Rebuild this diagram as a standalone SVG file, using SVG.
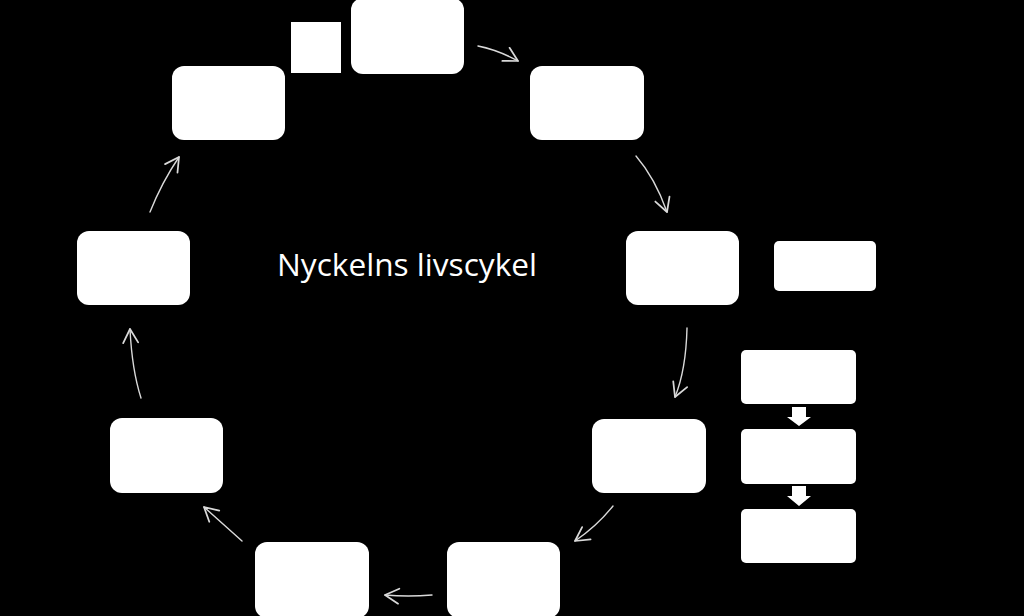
<svg xmlns="http://www.w3.org/2000/svg" width="1024" height="616" viewBox="0 0 1024 616">
<defs>
<style>
.node{fill:#ffffff}
.conn{fill:none;stroke:#d9d9d9;stroke-width:1.4;stroke-linecap:round}
.title{font-family:"Open Sans","Liberation Sans",sans-serif;font-size:31px;fill:#ffffff}
.block{fill:#ffffff}
</style>
<marker id="arr" markerUnits="userSpaceOnUse" markerWidth="20" markerHeight="20" viewBox="-12 -8 14 16" refX="0" refY="0" orient="auto">
<path d="M-11,-6 L0,0 L-11,6" fill="none" stroke="#d9d9d9" stroke-width="1.4" stroke-linecap="round" stroke-linejoin="round"/>
</marker>
</defs>
<rect width="1024" height="616" fill="#000000"/>
<g id="connectors">
<path class="conn" d="M478,46 Q498,50 518,61" marker-end="url(#arr)"/>
<path class="conn" d="M636,156 Q655,178 667,212" marker-end="url(#arr)"/>
<path class="conn" d="M687,328 Q686,370 675,397" marker-end="url(#arr)"/>
<path class="conn" d="M613,506 Q597,526 575,541" marker-end="url(#arr)"/>
<path class="conn" d="M432,595 Q408,597 385,595" marker-end="url(#arr)"/>
<path class="conn" d="M242,541 Q222,523 204,507" marker-end="url(#arr)"/>
<path class="conn" d="M141,398 Q132,370 130,329" marker-end="url(#arr)"/>
<path class="conn" d="M150,212 Q162,182 179,157" marker-end="url(#arr)"/>
<path class="block" d="M792,407 H806 V417 H811 L799,426 L787,417 H792 Z"/>
<path class="block" d="M792,486 H806 V496 H811 L799,506 L787,496 H792 Z"/>
</g>
<g id="n-top"><rect class="node" x="351" y="-2" width="113" height="76" rx="12"/></g>
<g id="n-square"><rect class="node" x="291" y="22" width="50" height="51"/></g>
<g id="n-topright"><rect class="node" x="530" y="66" width="114" height="74" rx="12"/></g>
<g id="n-topleft"><rect class="node" x="172" y="66" width="113" height="74" rx="12"/></g>
<g id="n-right"><rect class="node" x="626" y="231" width="113" height="74" rx="12"/></g>
<g id="n-rightside"><rect class="node" x="774" y="241" width="102" height="50" rx="5"/></g>
<g id="n-stack1"><rect class="node" x="741" y="350" width="115" height="54" rx="5"/></g>
<g id="n-stack2"><rect class="node" x="741" y="429" width="115" height="55" rx="5"/></g>
<g id="n-stack3"><rect class="node" x="741" y="509" width="115" height="54" rx="5"/></g>
<g id="n-lowerright"><rect class="node" x="592" y="419" width="114" height="74" rx="12"/></g>
<g id="n-bottomright"><rect class="node" x="447" y="542" width="113" height="76" rx="12"/></g>
<g id="n-bottomleft"><rect class="node" x="255" y="542" width="114" height="76" rx="12"/></g>
<g id="n-leftlower"><rect class="node" x="110" y="418" width="113" height="75" rx="12"/></g>
<g id="n-leftupper"><rect class="node" x="77" y="231" width="113" height="74" rx="12"/></g>
<g id="title"><text class="title" x="277" y="276" textLength="260" lengthAdjust="spacingAndGlyphs">Nyckelns livscykel</text></g>
</svg>
